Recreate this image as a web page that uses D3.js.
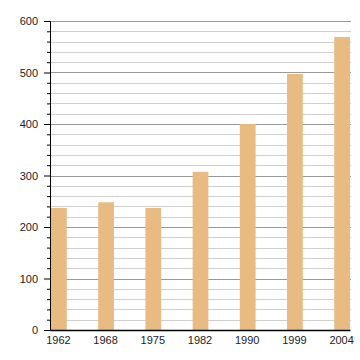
<!DOCTYPE html>
<html>
<head>
<meta charset="utf-8">
<script src="https://cdn.jsdelivr.net/npm/d3@7"></script>
<style>
  body { margin: 0; background: #fff; }
  text { font-family: "Liberation Sans", Arial, sans-serif; }
</style>
</head>
<body>
<div id="chart"></div>
<script>
// données
const annees = ["1962", "1968", "1975", "1982", "1990", "1999", "2004"]
const population = [237, 248, 237, 307, 400, 497, 569]
const majorTicks = [0, 100, 200, 300, 400, 500, 600]
const minorTicks = d3.range(0, 601, 20).filter(v => v % 100 != 0)

let margin = { top: 21, right: 10, bottom: 30, left: 50 },
    width = 360 - margin.left - margin.right,
    height = 360 - margin.top - margin.bottom;

let svg = d3.select("#chart")
    .append("svg")
    .attr("width", 360)
    .attr("height", 360)
    .append("g")
    .attr("transform", "translate(" + margin.left + "," + margin.top + ")");

let x = d3.scaleBand()
    .domain(annees)
    .range([0, width])
    .paddingInner(0.645)
    .paddingOuter(0)

let y = d3.scaleLinear()
    .domain([0, 600])
    .range([height, 0])

// grille
svg.selectAll(".minor")
    .data(minorTicks)
    .enter()
    .append("line")
    .attr("x1", 0).attr("x2", width + 1)
    .attr("y1", d => Math.round(y(d)) + 0.5).attr("y2", d => Math.round(y(d)) + 0.5)
    .attr("stroke", "#cfcfcf")

svg.selectAll(".major")
    .data(majorTicks.slice(1))
    .enter()
    .append("line")
    .attr("x1", 0).attr("x2", width + 1)
    .attr("y1", d => Math.round(y(d)) + 0.5).attr("y2", d => Math.round(y(d)) + 0.5)
    .attr("stroke", "#9a9a9a")

// barres
svg.selectAll(".bar")
    .data(annees)
    .enter()
    .append("rect")
    .attr("x", d => x(d) + 1)
    .attr("y", (d, i) => y(population[i]))
    .attr("width", x.bandwidth() - 1)
    .attr("height", (d, i) => height - y(population[i]))
    .attr("fill", "#e7bb81")

// axe Y
let yAxis = svg.append("g")
    .call(d3.axisLeft(y).tickValues(majorTicks).tickSize(6).tickPadding(6))
yAxis.select(".domain").attr("stroke", "#000")
yAxis.selectAll("text").attr("font-size", 11).attr("fill", "#222")

let yMinor = svg.append("g")
    .call(d3.axisLeft(y).tickValues(minorTicks).tickSize(3).tickFormat(""))
yMinor.select(".domain").remove()

// axe X
let xAxis = svg.append("g")
    .attr("transform", "translate(0," + height + ")")
    .call(d3.axisBottom(x).tickSize(0).tickPadding(6))
xAxis.select(".domain").attr("stroke", "#000").attr("stroke-width", 1.5)
xAxis.selectAll("text").attr("font-size", 11).attr("fill", "#222")
</script>
</body>
</html>
